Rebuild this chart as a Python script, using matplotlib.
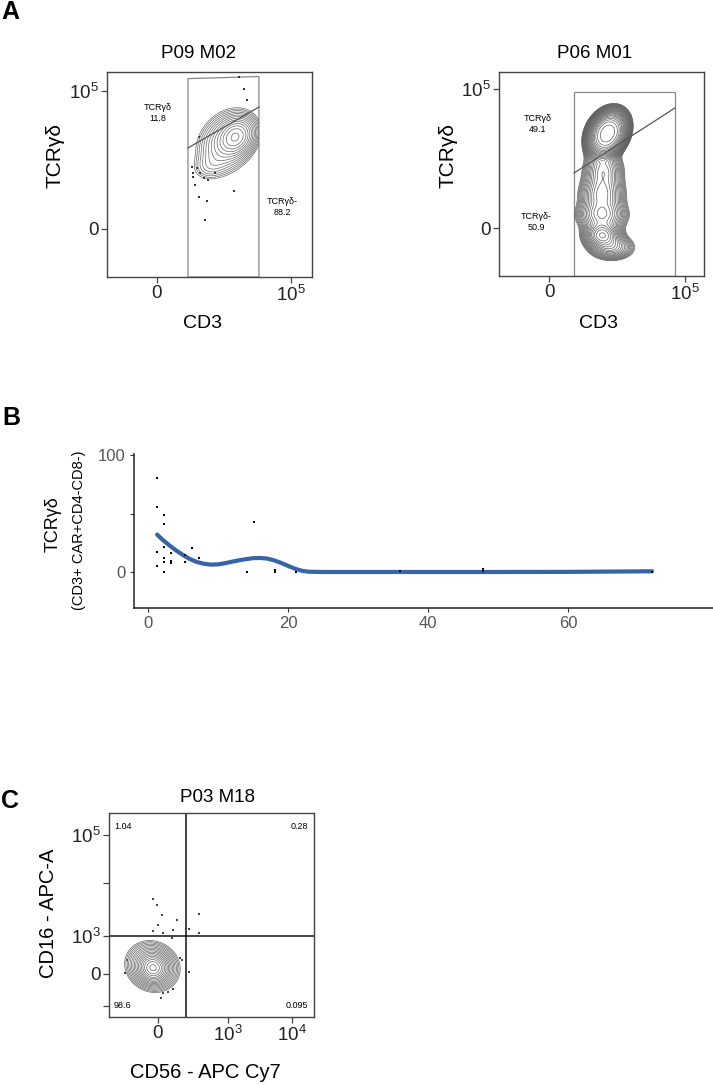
import numpy as np
import matplotlib
matplotlib.use('Agg')
import matplotlib.pyplot as plt
from matplotlib.patches import Polygon

plt.rcParams['font.family'] = ['Liberation Sans', 'DejaVu Sans']
plt.rcParams['mathtext.fontset'] = 'custom'
plt.rcParams['mathtext.rm'] = 'Liberation Sans'

# --- dati ---

# A sinistra: P09 M02 (unita' di canale: 0 -> 0, 10^5 -> 100)
a1_comps = [  # cx, cy, sx, sy, rho, peso, esponente
    (59, 67, 6.5, 6.5, 0.2, 1.0, 1.0),
    (52, 63, 10, 10.5, 0.25, 0.35, 1.0),
    (40, 46, 7, 5.5, 0.2, 0.07, 1.0),
]
a1_dots_x = [25.9, 27.1, 28.4, 32.1, 35.1, 38.3, 43.3, 31.3, 37.5, 57.5, 36.1, 64.9, 61.4, 31.6, 67.4, 26.6, 30.1]
a1_dots_y = [45.2, 37.9, 31.9, 40.3, 36.7, 35.5, 40.3, 23.4, 20.3, 27.5, 6.5, 101.2, 109.9, 66.4, 93.5, 40.8, 44.0]
a1_gate = [(23.1, -34.8), (23.1, 109.0), (76.1, 110.5), (76.1, -34.8)]
a1_split = ([23.1, 76.1], [58.7, 88.4])

# A destra: P06 M01
a2_comps = [
    (43, 68, 8.5, 9.7, 0.25, 1.0, 1.5),
    (40, 42, 7.5, 8, 0.0, 0.15, 1.0),
    (39, 24, 8.5, 8, 0.0, 0.17, 1.0),
    (39, 9, 9.5, 6, 0.0, 0.17, 1.0),
    (39, -5, 7, 5, 0.0, 0.28, 1.0),
    (46, -14, 9, 5, 0.0, 0.12, 1.0),
]
a2_gate = [(18.4, -34.5), (18.4, 97.8), (92.6, 97.8), (92.6, -34.5)]
a2_split = ([18.4, 92.6], [39.6, 86.3])

# B: punti e curva
b_x = [1.3, 1.3, 2.3, 2.3, 1.3, 2.3, 3.3, 6.3, 5.3, 7.3, 1.3, 2.3, 2.3, 3.3, 3.3,
       5.3, 2.3, 14.2, 18.1, 18.1, 21.1, 36.0, 47.9, 47.9, 72.0, 15.1]
b_y = [80, 56, 49, 41, 17, 21, 16, 20.5, 14.5, 12, 5, 12, 8.5, 9.4, 8,
       8.5, 0, 0, 1.5, 0, 0, 1, 2.5, 0.5, 0, 43]
curva_x = [1.3, 2, 3, 4, 5, 6, 7, 8, 9, 10, 11, 12, 13, 14, 15, 16, 17, 18, 19,
           20, 21, 22, 23, 25, 30, 40, 50, 60, 65, 72]
curva_y = [32, 28, 23, 18.5, 14.5, 11, 8.5, 7, 6.3, 6.5, 7.5, 8.8, 10, 11, 11.8, 12,
           11.5, 10, 7.8, 5.2, 2.8, 1, 0.2, 0, 0, 0, 0, 0.1, 0.3, 0.6]

# C: P03 M18 (x: 10^3 -> 100, y: 10^3 -> 100)
c_comps = [(-7, 16, 10, 18, -0.05, 1.0, 1.0),
           (-8, 20, 17.5, 30, -0.1, 0.35, 1.0)]
c_dots_x = [-7.6, -1.9, 6.2, 0.5, 27.6, 21.9, -6.7, 7.6, 19.5, 31.4, 33.8, 44.8, 59.0,
            59.0, 44.3, 4.3, 7.6, -44.8, -47.1, 21.9, 14.8]
c_dots_y = [196.5, 181.6, 155.3, 128.9, 142.1, 115.8, 114.0, 107.0, 93.9, 41.2, 36.8, 6.1,
            157.9, 107.0, 117.6, -64.0, -50.9, 36.8, 1.8, -40.4, -46.5]
c_quadranti = {'1.04': 'tl', '0.28': 'tr', '98.6': 'bl', '0.095': 'br'}

W, H = 713, 1084


def box(l, t, r, b):
    return [l / W, 1 - b / H, (r - l) / W, (b - t) / H]


def ftext(x, y, s, **kw):
    fig.text(x / W, 1 - y / H, s, ha=kw.pop('ha', 'center'), va=kw.pop('va', 'center'), **kw)


def densita(ax, comps, nlev, clip=None, colore='#5e5e5e'):
    x0, x1 = ax.get_xlim()
    y0, y1 = ax.get_ylim()
    X, Y = np.meshgrid(np.linspace(x0, x1, 450), np.linspace(y0, y1, 450))
    Z = np.zeros_like(X)
    for cx, cy, sx, sy, rho, w, p in comps:
        dx = (X - cx) / sx
        dy = (Y - cy) / sy
        q = (dx * dx - 2 * rho * dx * dy + dy * dy) / (1 - rho ** 2)
        Z += w * np.exp(-(q / 2) ** p)
    livelli = Z.max() * np.geomspace(0.02, 0.92, nlev)
    cs = ax.contour(X, Y, Z, levels=livelli, colors=colore, linewidths=0.5)
    if clip is not None:
        cs.set_clip_path(clip)


def stile_flow(ax):
    for s in ax.spines.values():
        s.set_color('#444444')
        s.set_linewidth(1.0)
    ax.tick_params(direction='out', length=4, width=0.9, color='#444444',
                   labelsize=13.5, labelcolor='#222222', pad=2)


fig = plt.figure(figsize=(7.13, 10.84), dpi=100)

# --- A sinistra ---
ax1 = fig.add_axes(box(107, 72, 312, 277))
ax1.set_xlim(-37.3, 115.7)
ax1.set_ylim(-34.8, 113.8)
gate1 = Polygon(a1_gate, closed=True, fill=False, edgecolor='#888888', linewidth=0.9)
ax1.add_patch(gate1)
densita(ax1, a1_comps, 14, clip=gate1, colore='#666666')
ax1.scatter(a1_dots_x, a1_dots_y, s=1.2, c='#333333', marker='s', linewidths=0)
ax1.plot(*a1_split, color='#555555', linewidth=0.9)
ax1.set_xticks([0, 100], ['0', r'$\mathregular{10^5}$'])
ax1.set_yticks([0, 100], ['0', r'$\mathregular{10^5}$'])
stile_flow(ax1)

# --- A destra ---
ax2 = fig.add_axes(box(499, 72, 704, 276))
ax2.set_xlim(-36.8, 114.0)
ax2.set_ylim(-34.5, 112.2)
gate2 = Polygon(a2_gate, closed=True, fill=False, edgecolor='#888888', linewidth=0.9)
ax2.add_patch(gate2)
densita(ax2, a2_comps, 28, clip=gate2)
ax2.plot(*a2_split, color='#555555', linewidth=0.9)
ax2.set_xticks([0, 100], ['0', r'$\mathregular{10^5}$'])
ax2.set_yticks([0, 100], ['0', r'$\mathregular{10^5}$'])
stile_flow(ax2)

ftext(10, 12, 'A', fontsize=18, weight='bold')
ftext(199, 53, 'P09 M02', fontsize=13.5)
ftext(595, 53, 'P06 M01', fontsize=13.5)
ftext(55, 155, 'TCRγδ', fontsize=15, rotation=90)
ftext(448, 156, 'TCRγδ', fontsize=15, rotation=90)
ftext(203, 323, 'CD3', fontsize=14)
ftext(598, 323, 'CD3', fontsize=14)
ftext(158, 113, 'TCRγδ\n11.8', fontsize=6.5, linespacing=1.2)
ftext(282, 207, 'TCRγδ-\n88.2', fontsize=6.5, linespacing=1.2)
ftext(538, 124, 'TCRγδ\n49.1', fontsize=6.5, linespacing=1.2)
ftext(536, 222, 'TCRγδ-\n50.9', fontsize=6.5, linespacing=1.2)

# --- B ---
axb = fig.add_axes(box(134, 454, 713, 608))
axb.set_xlim(-2, 80.7)
axb.set_ylim(-30.8, 100.9)
axb.scatter(b_x, b_y, s=3, c='black', marker='s', linewidths=0, zorder=3)
axb.plot(curva_x, curva_y, color='#3763a8', linewidth=3, solid_capstyle='round', zorder=2)
axb.spines[['top', 'right']].set_visible(False)
for s in ['left', 'bottom']:
    axb.spines[s].set_color('#222222')
    axb.spines[s].set_linewidth(1.1)
axb.set_xticks([0, 20, 40, 60])
axb.set_yticks([0, 50, 100], ['0', '', '100'])
axb.tick_params(direction='out', length=3, width=0.8, color='#333333',
                labelsize=12, labelcolor='#555555', pad=3)
ftext(11, 418, 'B', fontsize=18, weight='bold')
ftext(53, 524, 'TCRγδ', fontsize=13, rotation=90)
ftext(79, 530, '(CD3+ CAR+CD4-CD8-)', fontsize=10.5, rotation=90)

# --- C ---
axc = fig.add_axes(box(109, 813, 314, 1017))
axc.set_xlim(-70, 222.9)
axc.set_ylim(-113.2, 423.7)
densita(axc, c_comps, 17, colore='#666666')
axc.scatter(c_dots_x, c_dots_y, s=1.0, c='#444444', marker='s', linewidths=0)
axc.axvline(40, color='#111111', linewidth=1.1)
axc.axhline(100, color='#111111', linewidth=1.1)
axc.set_xticks([0, 100, 191.4], ['0', r'$\mathregular{10^3}$', r'$\mathregular{10^4}$'])
axc.set_yticks([365.8, 239.5, 100, 0, -84.2],
               [r'$\mathregular{10^5}$', '', r'$\mathregular{10^3}$', '0', ''])
stile_flow(axc)
for testo, pos in c_quadranti.items():
    xx = 0.025 if pos[1] == 'l' else 0.97
    yy = 0.935 if pos[0] == 't' else 0.055
    axc.text(xx, yy, testo, transform=axc.transAxes, fontsize=6.5,
             ha='left' if pos[1] == 'l' else 'right', va='center')
ftext(10, 801, 'C', fontsize=18, weight='bold')
ftext(218, 797, 'P03 M18', fontsize=13.5)
ftext(49, 913, 'CD16 - APC-A', fontsize=14.5, rotation=90)
ftext(205, 1072, 'CD56 - APC Cy7', fontsize=14.5)

fig.savefig('out.png', dpi=100)
